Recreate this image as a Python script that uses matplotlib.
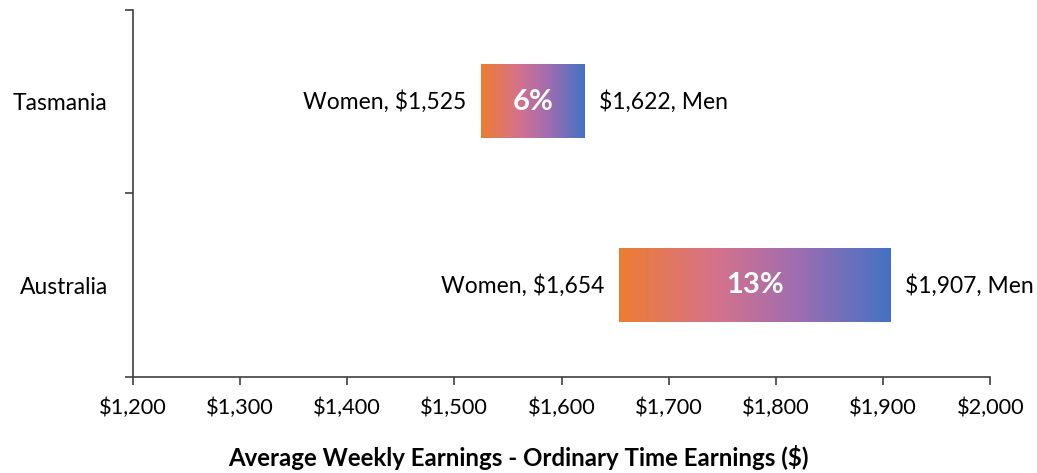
import numpy as np
import matplotlib.pyplot as plt
from matplotlib.colors import LinearSegmentedColormap

plt.rcParams['font.family'] = ['Lato', 'DejaVu Sans']

regions = ['Australia', 'Tasmania']
women = [1654, 1525]
men = [1907, 1622]
gap = ['13%', '6%']
xticks = [1200, 1300, 1400, 1500, 1600, 1700, 1800, 1900, 2000]

cmap = LinearSegmentedColormap.from_list(
    'gap', [(0, '#ED7D31'), (0.35, '#D6728A'), (0.65, '#A06DB0'), (1, '#4472C4')])
grad = np.linspace(0, 1, 256).reshape(1, -1)

fig = plt.figure(figsize=(10.37, 4.73), dpi=100)
ax = fig.add_axes([0.128, 0.203, 0.827, 0.776])

h = 0.4
for i in range(len(regions)):
    ax.imshow(grad, cmap=cmap, aspect='auto', interpolation='bicubic',
              extent=[women[i], men[i], i - h / 2, i + h / 2], zorder=2)
    ax.text((women[i] + men[i]) / 2, i, gap[i], color='white', fontsize=21,
            fontweight='bold', ha='center', va='center', zorder=3)
    ax.annotate('Women, $%s' % format(women[i], ','), (women[i], i),
                xytext=(-11, 0), textcoords='offset points',
                ha='right', va='center', fontsize=16.5)
    ax.annotate('$%s, Men' % format(men[i], ','), (men[i], i),
                xytext=(10, 0), textcoords='offset points',
                ha='left', va='center', fontsize=16.5)

ax.set_xlim(1200, 2000)
ax.set_ylim(-0.5, 1.5)
ax.set_xticks(xticks)
ax.set_xticklabels(['$' + format(v, ',') for v in xticks], fontsize=15.7)
ax.set_yticks([-0.5, 0.5, 1.5])
ax.set_yticklabels([])
ax.set_yticks([0, 1], minor=True)
ax.set_yticklabels(regions, minor=True, fontsize=16.5)
ax.tick_params(axis='y', which='minor', length=0, pad=18)
ax.tick_params(axis='both', which='major', length=6, color='#404040', width=1.2)
ax.tick_params(axis='x', pad=9)

for s in ['top', 'right']:
    ax.spines[s].set_visible(False)
for s in ['left', 'bottom']:
    ax.spines[s].set_color('#404040')
    ax.spines[s].set_linewidth(1.2)

ax.set_xlabel('Average Weekly Earnings - Ordinary Time Earnings ($)',
              fontsize=17.3, fontweight='bold')
ax.xaxis.set_label_coords(0.45, -0.185)

fig.savefig('out.png', dpi=100)
